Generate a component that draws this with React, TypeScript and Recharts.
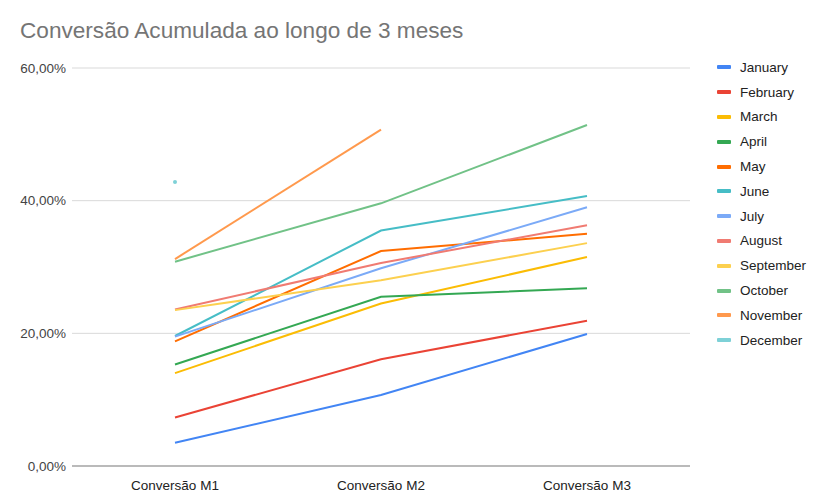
import React from "react";
import { LineChart, Line, XAxis, YAxis, CartesianGrid } from "recharts";

//#region Data

const categories = ["Conversão M1", "Conversão M2", "Conversão M3"];

const months = [
  "January", "February", "March", "April", "May", "June",
  "July", "August", "September", "October", "November", "December",
];

const colors = [
  "#4285F4", "#EA4335", "#FBBC04", "#34A853", "#FF6D01", "#46BDC6",
  "#7BAAF7", "#F07B72", "#FCD04F", "#71C287", "#FF994D", "#7ED1D7",
];

const january = [0.035, 0.107, 0.199];
const february = [0.073, 0.161, 0.219];
const march = [0.140, 0.245, 0.315];
const april = [0.153, 0.255, 0.268];
const may = [0.188, 0.324, 0.350];
const june = [0.196, 0.355, 0.407];
const july = [0.195, 0.298, 0.390];
const august = [0.236, 0.306, 0.363];
const september = [0.235, 0.280, 0.336];
const october = [0.308, 0.396, 0.514];
const november = [0.312, 0.507, null];
const december = [0.428, null, null];

const yTicks = [0, 0.2, 0.4, 0.6];

//#endregion

const seriesValues = [
  january, february, march, april, may, june,
  july, august, september, october, november, december,
];

const data = categories.map((name, i) => {
  const row: Record<string, string | number | null> = { name };
  months.forEach((m, j) => {
    row[m] = seriesValues[j][i];
  });
  return row;
});

const pct = (v: number) => (v * 100).toFixed(2).replace(".", ",") + "%";

const font = "Arial, 'Liberation Sans', sans-serif";

const LegendList = () => (
  <div
    style={{
      position: "absolute",
      left: 717,
      top: 55,
      fontFamily: font,
      fontSize: 13.5,
      color: "#222",
    }}
  >
    {months.map((m, i) => (
      <div key={m} style={{ display: "flex", alignItems: "center", height: 24.8 }}>
        <span style={{ width: 14, height: 4, background: colors[i], marginRight: 9, borderRadius: 1 }} />
        <span>{m}</span>
      </div>
    ))}
  </div>
);

export default function App() {
  return (
    <div style={{ position: "absolute", left: 0, top: 0, width: 818, height: 500, background: "#fff" }}>
      <div
        style={{
          position: "absolute",
          left: 20,
          top: 18,
          fontFamily: font,
          fontSize: 22.6,
          color: "#757575",
          whiteSpace: "nowrap",
        }}
      >
        Conversão Acumulada ao longo de 3 meses
      </div>
      <LineChart
        width={818}
        height={500}
        data={data}
        margin={{ top: 68, right: 128, bottom: 0, left: 0 }}
      >
        <CartesianGrid vertical={false} stroke="#d9d9d9" />
        <XAxis
          dataKey="name"
          padding={{ left: 103, right: 103 }}
          axisLine={{ stroke: "#888" }}
          tickLine={false}
          tick={{ fill: "#222", fontSize: 13.5, fontFamily: font }}
          height={34}
          tickMargin={8}
        />
        <YAxis
          domain={[0, 0.6]}
          ticks={yTicks}
          tickFormatter={pct}
          axisLine={false}
          tickLine={false}
          tickSize={0}
          tickMargin={6}
          width={72}
          tick={{ fill: "#444", fontSize: 13.5, fontFamily: font }}
        />
        {months.map((m, i) => (
          <Line
            key={m}
            type="linear"
            dataKey={m}
            stroke={colors[i]}
            strokeWidth={2}
            dot={m === "December" ? { r: 2, fill: colors[i], stroke: colors[i], strokeWidth: 0 } : false}
            activeDot={false}
            isAnimationActive={false}
          />
        ))}
      </LineChart>
      <LegendList />
    </div>
  );
}
